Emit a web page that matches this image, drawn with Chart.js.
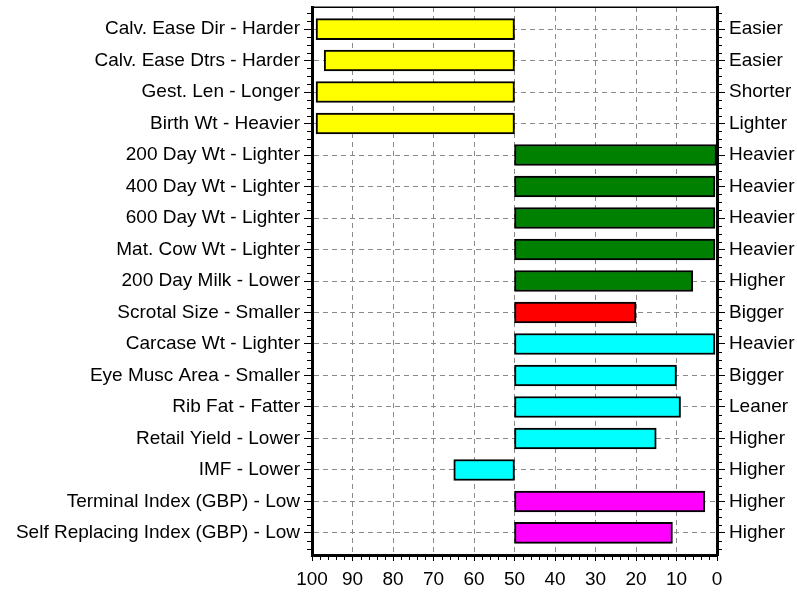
<!DOCTYPE html>
<html>
<head>
<meta charset="utf-8">
<script src="https://cdn.jsdelivr.net/npm/chart.js@4.4.1/dist/chart.umd.min.js"></script>
<style>
  html, body { margin: 0; padding: 0; background: #ffffff; }
  #wrap { width: 797px; height: 592px; position: relative; }
</style>
</head>
<body>
<div id="wrap"><canvas id="c" width="797" height="592"></canvas></div>
<script>
// ---- Data ----
const leftLabels = [
  "Calv. Ease Dir - Harder",
  "Calv. Ease Dtrs - Harder",
  "Gest. Len - Longer",
  "Birth Wt - Heavier",
  "200 Day Wt - Lighter",
  "400 Day Wt - Lighter",
  "600 Day Wt - Lighter",
  "Mat. Cow Wt - Lighter",
  "200 Day Milk - Lower",
  "Scrotal Size - Smaller",
  "Carcase Wt - Lighter",
  "Eye Musc Area - Smaller",
  "Rib Fat - Fatter",
  "Retail Yield - Lower",
  "IMF - Lower",
  "Terminal Index (GBP) - Low",
  "Self Replacing Index (GBP) - Low"
];
const rightLabels = [
  "Easier", "Easier", "Shorter", "Lighter",
  "Heavier", "Heavier", "Heavier", "Heavier", "Higher",
  "Bigger",
  "Heavier", "Bigger", "Leaner", "Higher", "Higher",
  "Higher", "Higher"
];
const baseline = 50;
const percentRank = [99, 97, 99, 99, 0, 0.5, 0.5, 0.5, 6, 20, 0.5, 10, 9, 15, 65, 3, 11];
const xTickValues = [100, 90, 80, 70, 60, 50, 40, 30, 20, 10, 0];

// ---- Styles ----
const YELLOW = "#FFFF00", GREEN = "#008000", RED = "#FF0000", CYAN = "#00FFFF", MAGENTA = "#FF00FF";
const barColors = [YELLOW, YELLOW, YELLOW, YELLOW,
  GREEN, GREEN, GREEN, GREEN, GREEN,
  RED,
  CYAN, CYAN, CYAN, CYAN, CYAN,
  MAGENTA, MAGENTA];

const FONT = { family: "'Liberation Sans', Arial, sans-serif", size: 19 };
const TEXT = "#000000";
const GRID = "#8a8a8a";

const points = percentRank.map((v, i) => ({ x: [baseline, v], y: i }));

const noPad = (s) => { s.paddingTop = 0; s.paddingBottom = 0; s.paddingLeft = 0; s.paddingRight = 0; };

const frame = {
  id: "frame",
  afterDraw(chart) {
    const ctx = chart.ctx;
    const a = chart.chartArea;
    const xs = chart.scales.x;
    const ys = chart.scales.y;
    ctx.save();
    ctx.strokeStyle = "#000";
    // top border
    ctx.lineWidth = 1.5;
    ctx.beginPath();
    ctx.moveTo(a.left, a.top + 0.25);
    ctx.lineTo(a.right + 1.5, a.top + 0.25);
    ctx.stroke();
    // bottom minor ticks every 2 units
    ctx.lineWidth = 1;
    ctx.beginPath();
    for (let v = 0; v <= 100; v += 2) {
      if (v % 10 === 0) continue;
      const x = Math.round(xs.getPixelForValue(v)) + 0.5;
      ctx.moveTo(x, a.bottom + 1);
      ctx.lineTo(x, a.bottom + 5);
    }
    // left / right minor ticks at quarter rows
    for (let q = -2; q <= 4 * (leftLabels.length - 1) + 2; q++) {
      if (q % 4 === 0) continue;
      const y = Math.round(ys.getPixelForValue(q / 4)) + 0.5;
      if (y < a.top + 2 || y > a.bottom - 2) continue;
      ctx.moveTo(a.left - 1, y); ctx.lineTo(a.left - 5, y);
      ctx.moveTo(a.right + 1, y); ctx.lineTo(a.right + 5, y);
    }
    ctx.stroke();
    ctx.restore();
  }
};

new Chart(document.getElementById("c"), {
  type: "bar",
  data: {
    datasets: [{
      data: points,
      backgroundColor: barColors,
      borderColor: "#000000",
      borderWidth: 2,
      borderSkipped: false,
      barThickness: 21
    }]
  },
  options: {
    responsive: false,
    animation: false,
    indexAxis: "y",
    layout: { padding: { top: 7, left: 0, right: 0, bottom: 0 } },
    plugins: { legend: { display: false }, tooltip: { enabled: false } },
    scales: {
      x: {
        type: "linear",
        position: "bottom",
        min: 0, max: 100,
        reverse: true,
        offset: false,
        afterBuildTicks: (s) => { s.ticks = xTickValues.map(v => ({ value: v })); },
        afterFit: (s) => { s.height = 37; noPad(s); },
        ticks: { color: TEXT, font: FONT, padding: 7, maxRotation: 0, autoSkip: false },
        grid: {
          color: GRID, lineWidth: 1, offset: false,
          drawTicks: true, tickLength: 6, tickColor: "#000", tickWidth: 1
        },
        border: { display: true, color: "#000", width: 3, dash: [5, 4] }
      },
      y: {
        type: "linear",
        position: "left",
        min: -0.7, max: 16.7,
        reverse: true,
        offset: false,
        afterBuildTicks: (s) => { s.ticks = leftLabels.map((l, i) => ({ value: i })); },
        afterFit: (s) => { s.width = 312; noPad(s); },
        ticks: {
          color: TEXT, font: FONT, padding: 4, autoSkip: false,
          callback: (v) => leftLabels[v]
        },
        grid: {
          color: GRID, lineWidth: 1, offset: false,
          drawTicks: true, tickLength: 8, tickColor: "#000", tickWidth: 1
        },
        border: { display: true, color: "#000", width: 3, dash: [5, 4] }
      },
      y2: {
        type: "linear",
        position: "right",
        min: -0.7, max: 16.7,
        reverse: true,
        offset: false,
        afterBuildTicks: (s) => { s.ticks = rightLabels.map((l, i) => ({ value: i })); },
        afterFit: (s) => { s.width = 80; noPad(s); },
        ticks: {
          color: TEXT, font: FONT, padding: 4, autoSkip: false,
          callback: (v) => rightLabels[v]
        },
        grid: {
          drawOnChartArea: false, offset: false,
          drawTicks: true, tickLength: 8, tickColor: "#000", tickWidth: 1
        },
        border: { display: true, color: "#000", width: 3 }
      }
    }
  },
  plugins: [frame]
});
</script>
</body>
</html>
